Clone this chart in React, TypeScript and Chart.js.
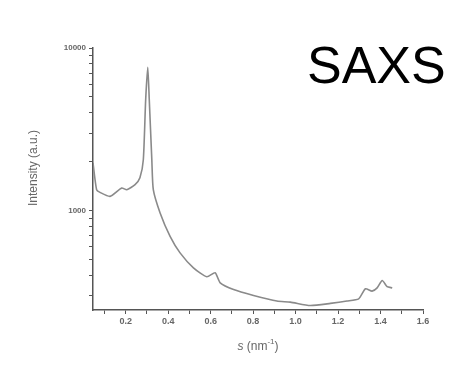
import React, { useEffect, useRef } from "react";
import { Chart, registerables } from "chart.js";

Chart.register(...registerables);

const sValues = [0.046, 0.063, 0.079, 0.126, 0.181, 0.205, 0.244, 0.267, 0.283, 0.294, 0.304, 0.311, 0.323, 0.330, 0.362, 0.409, 0.456, 0.519, 0.582, 0.621, 0.645, 0.708, 0.802, 0.912, 0.975, 1.069, 1.164, 1.242, 1.297, 1.329, 1.360, 1.384, 1.408, 1.431, 1.455];
const intensity = [1968, 1345, 1295, 1224, 1378, 1345, 1445, 1593, 2055, 4800, 7620, 4800, 2055, 1345, 968, 695, 550, 445, 392, 415, 360, 327, 301, 278, 274, 261, 269, 278, 287, 331, 320, 335, 372, 341, 335];
const xTickValues = [0.1, 0.2, 0.3, 0.4, 0.5, 0.6, 0.7, 0.8, 0.9, 1.0, 1.1, 1.2, 1.3, 1.4, 1.5, 1.6];
const xLabelValues = [0.2, 0.4, 0.6, 0.8, 1.0, 1.2, 1.4, 1.6];
const yTickValues = [300, 400, 500, 600, 700, 800, 900, 1000, 2000, 3000, 4000, 5000, 6000, 7000, 8000, 9000, 10000];
const yLabelValues = [1000, 10000];
const chartLabel = "SAXS";
const yTitle = "Intensity (a.u.)";

const FAM = "'Liberation Sans', Arial, sans-serif";

export default function App() {
  const ref = useRef<HTMLCanvasElement>(null);
  useEffect(() => {
    document.body.style.margin = "0";
    const ctx = ref.current!;
    const axisColor = "#555";
    const textPlugin = {
      id: "texts",
      afterDraw(chart: any) {
        const c = chart.ctx;
        c.save();
        c.fillStyle = "#000";
        c.font = `52px ${FAM}`;
        c.textBaseline = "alphabetic";
        c.textAlign = "left";
        c.fillText(chartLabel, 307, 83);
        // y title
        c.fillStyle = "#666";
        c.font = `12px ${FAM}`;
        c.textAlign = "center";
        c.textBaseline = "middle";
        c.save();
        c.translate(34, 168);
        c.rotate(-Math.PI / 2);
        c.fillText(yTitle, 0, 0);
        c.restore();
        // x title
        c.textAlign = "left";
        const area = chart.chartArea;
        const cx = (area.left + area.right) / 2;
        const p1 = "s";
        const p2 = " (nm";
        const p3 = "-1";
        const p4 = ")";
        c.font = `italic 12px ${FAM}`;
        const w1 = c.measureText(p1).width;
        c.font = `12px ${FAM}`;
        const w2 = c.measureText(p2).width;
        const w4 = c.measureText(p4).width;
        c.font = `8px ${FAM}`;
        const w3 = c.measureText(p3).width;
        let x = cx - (w1 + w2 + w3 + w4) / 2;
        const y = 347;
        c.font = `italic 12px ${FAM}`;
        c.fillText(p1, x, y);
        x += w1;
        c.font = `12px ${FAM}`;
        c.fillText(p2, x, y);
        x += w2;
        c.font = `8px ${FAM}`;
        c.fillText(p3, x, y - 5);
        x += w3;
        c.font = `12px ${FAM}`;
        c.fillText(p4, x, y);
        c.restore();
      },
    };
    const chart = new Chart(ctx, {
      type: "line",
      data: {
        datasets: [
          {
            data: sValues.map((s, i) => ({ x: s, y: intensity[i] })),
            borderColor: "#8a8a8a",
            borderWidth: 1.6,
            pointRadius: 0,
            tension: 0.2,
            fill: false,
          },
        ],
      },
      options: {
        animation: false,
        responsive: false,
        maintainAspectRatio: false,
        layout: { padding: { left: 0, right: 50, top: 48, bottom: 0 } },
        plugins: { legend: { display: false }, tooltip: { enabled: false } },
        scales: {
          x: {
            type: "linear",
            min: 0.046,
            max: 1.6,
            afterBuildTicks: (scale: any) => {
              scale.ticks = xTickValues.map((v) => ({ value: v }));
            },
            afterFit: (scale: any) => {
              scale.height = 60;
            },
            border: { color: axisColor, width: 1.5 },
            grid: { drawOnChartArea: false, color: axisColor, tickLength: 4, lineWidth: 1 },
            ticks: {
              autoSkip: false,
              maxRotation: 0,
              color: "#666",
              font: { size: 9, weight: "bold", family: FAM },
              padding: 2,
              callback: (v: any) => {
                const n = Number(v);
                return xLabelValues.some((l) => Math.abs(l - n) < 1e-6) ? n.toFixed(1) : "";
              },
            },
          },
          y: {
            type: "logarithmic",
            min: 245,
            max: 10000,
            afterBuildTicks: (scale: any) => {
              scale.ticks = yTickValues.map((v) => ({ value: v }));
            },
            afterFit: (scale: any) => {
              scale.width = 93;
            },
            border: { color: axisColor, width: 1.5 },
            grid: { drawOnChartArea: false, color: axisColor, tickLength: 4, lineWidth: 1 },
            ticks: {
              autoSkip: false,
              color: "#666",
              font: { size: 8, weight: "bold", family: FAM },
              padding: 3,
              callback: (v: any) => {
                const n = Number(v);
                return yLabelValues.includes(n) ? String(n) : "";
              },
            },
          },
        },
      },
      plugins: [textPlugin],
    });
    return () => chart.destroy();
  }, []);
  return (
    <div style={{ width: 473, height: 370 }}>
      <canvas ref={ref} width={473} height={370} style={{ display: "block" }} />
    </div>
  );
}
